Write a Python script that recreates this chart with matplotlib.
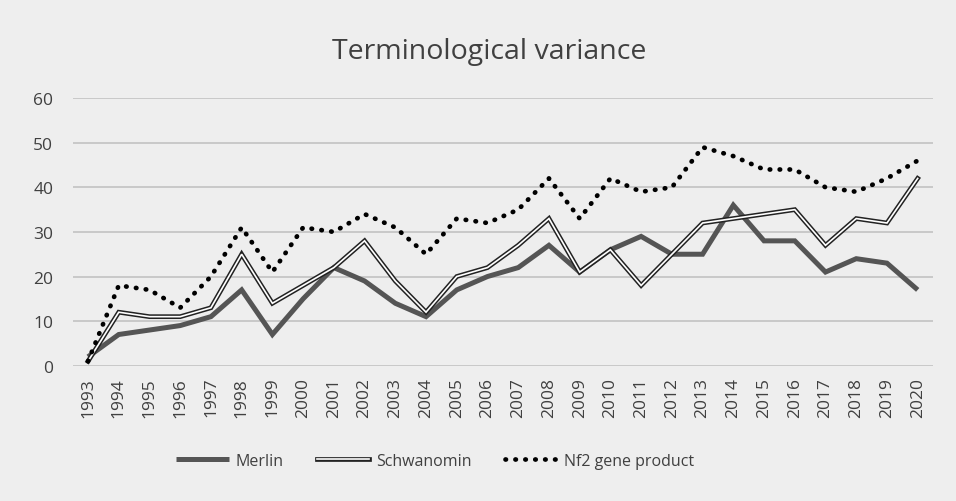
import numpy as np
import matplotlib
matplotlib.use("Agg")
import matplotlib.pyplot as plt
import matplotlib.patheffects as pe

years = list(range(1993, 2021))

merlin = [2, 7, 8, 9, 11, 17, 7, 15, 22, 19, 14, 11, 17, 20, 22, 27, 21, 26, 29, 25,
          25, 36, 28, 28, 21, 24, 23, 17]
schwanomin = [1, 12, 11, 11, 13, 25, 14, 18, 22, 28, 19, 12, 20, 22, 27, 33, 21, 26, 18, 25,
              32, 33, 34, 35, 27, 33, 32, 42]
nf2 = [1, 18, 17, 13, 20, 31, 21, 31, 30, 34, 31, 25, 33, 32, 35, 42, 33, 42, 39, 40,
       49, 47, 44, 44, 40, 39, 42, 46]

bg = "#eeeeee"
txt = "#404040"

plt.rcParams["font.family"] = ["Open Sans", "DejaVu Sans"]

fig = plt.figure(figsize=(9.56, 5.02), dpi=100, facecolor=bg)
ax = fig.add_axes([0.076, 0.2695, 0.9, 0.533], facecolor=bg)

# merlin - thick grey
ax.plot(years, merlin, color="#555555", lw=3.6, solid_capstyle="butt",
        solid_joinstyle="miter", label="Merlin", zorder=3)
# schwanomin - double line (dark outer, light inner)
ax.plot(years, schwanomin, color="#222222", lw=1.0, label="Schwanomin", zorder=4,
        solid_joinstyle="miter",
        path_effects=[pe.Stroke(linewidth=3.4, foreground="#222222"),
                      pe.Stroke(linewidth=1.2, foreground="white")])
# nf2 - round dots
ax.plot(years, nf2, color="black", lw=3.4, linestyle=(0, (0.1, 2.0)),
        dash_capstyle="round", label="Nf2 gene product", zorder=5)

ax.set_xlim(1992.5, 2020.5)
ax.set_ylim(0, 60)
ax.set_yticks(range(0, 61, 10))
ax.set_xticks(years)
ax.set_xticklabels([str(y) for y in years], rotation=90)
ax.tick_params(axis="both", length=0, labelsize=12.5, labelcolor=txt)
ax.tick_params(axis="y", pad=14)
ax.tick_params(axis="x", pad=8)
ax.yaxis.grid(True, color="#c6c6c6", lw=1.3)
ax.set_axisbelow(True)
for s in ax.spines.values():
    s.set_visible(False)

fig.suptitle("Terminological variance", x=0.512, y=0.925, fontsize=20.5, color=txt)

leg = fig.legend(loc="center", bbox_to_anchor=(0.455, 0.08), ncol=3, frameon=False,
                 fontsize=11.5, handlelength=3.3, columnspacing=2.1, handletextpad=0.4)
for t in leg.get_texts():
    t.set_color(txt)

fig.savefig("out.png", dpi=100, facecolor=bg)
